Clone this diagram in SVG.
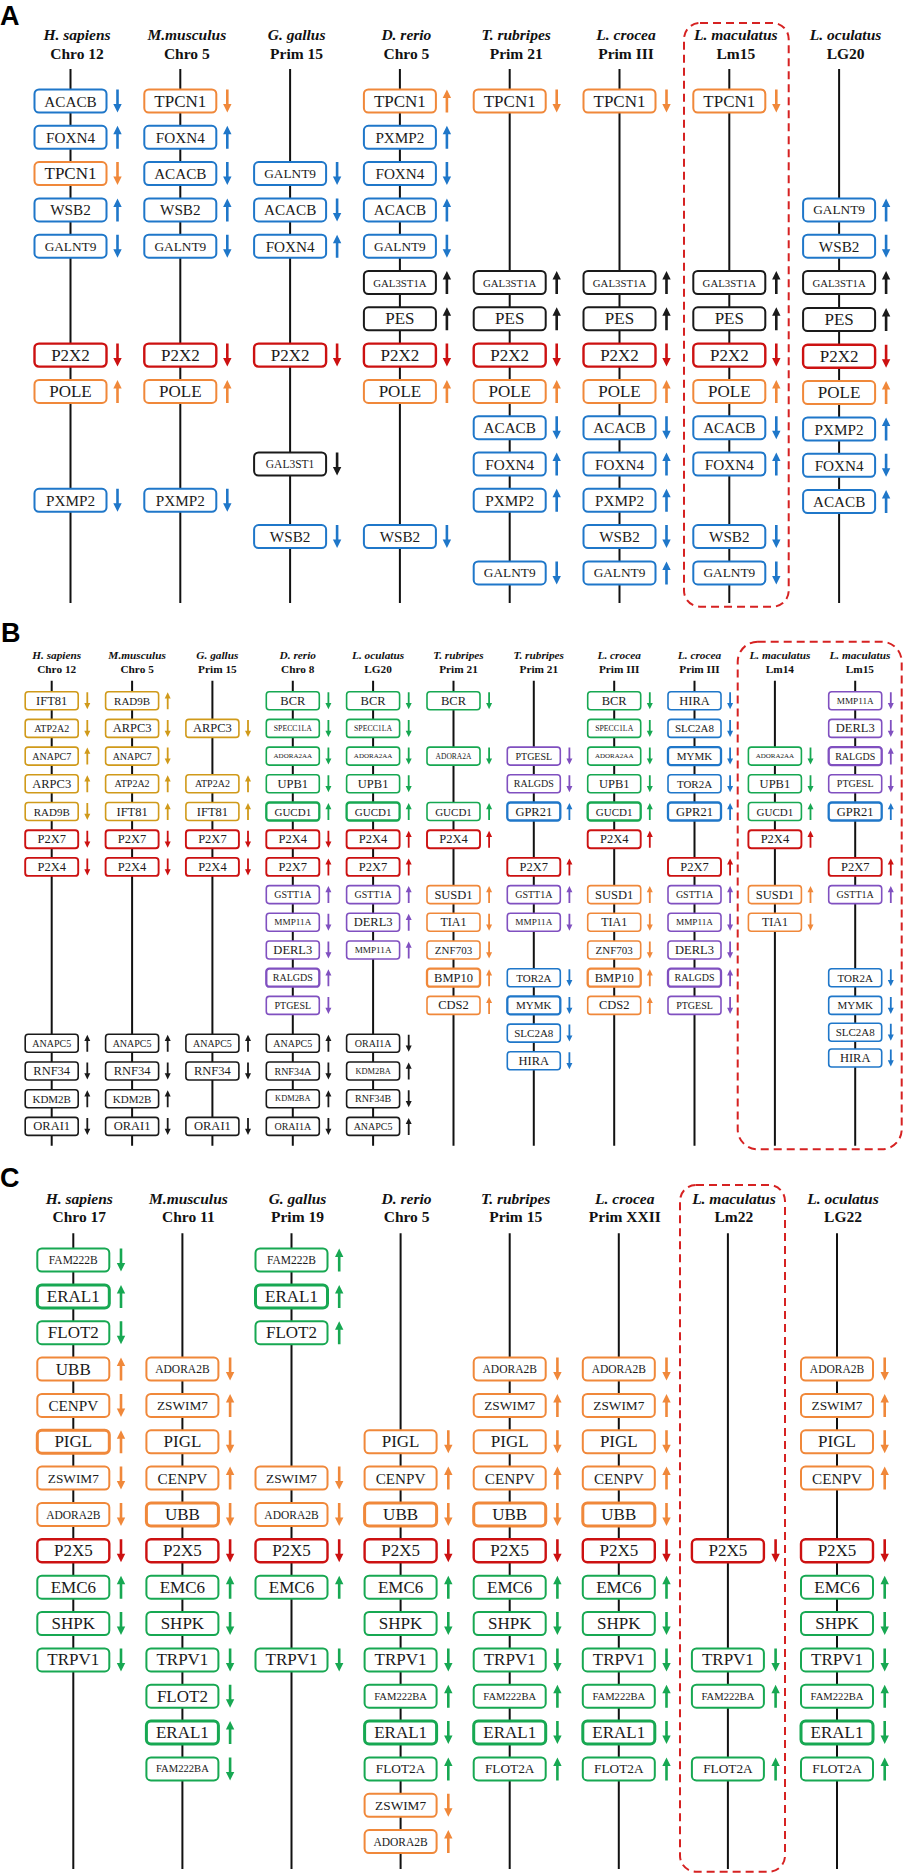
<svg xmlns="http://www.w3.org/2000/svg" width="905" height="1875" viewBox="0 0 905 1875">
<style>
.bg{fill:#fff}
.lt{font-family:"Liberation Sans",Arial,sans-serif;font-weight:bold;font-size:27px;fill:#000}
.t1{font-family:"Liberation Serif","Times New Roman",serif;font-weight:bold;font-style:italic;font-size:15.5px;text-anchor:middle;fill:#111}
.t2{font-family:"Liberation Serif","Times New Roman",serif;font-weight:bold;font-size:15.5px;text-anchor:middle;fill:#111}
.u1{font-family:"Liberation Serif","Times New Roman",serif;font-weight:bold;font-style:italic;font-size:11.3px;text-anchor:middle;fill:#111}
.u2{font-family:"Liberation Serif","Times New Roman",serif;font-weight:bold;font-size:11.3px;text-anchor:middle;fill:#111}
.chr{stroke:#111;stroke-width:2;fill:none}
.dash{fill:none;stroke:#d62222;stroke-width:2;stroke-dasharray:8 5}
.n{stroke-width:2}
.nb{stroke-width:1.6}
.n.tk{stroke-width:3}
.nb.tk{stroke-width:2.3}
.n.rd{stroke-width:2.4}
.nb.rd{stroke-width:1.9}
.n text,.nb text{fill:#1a1a1a;stroke:none;font-family:"Liberation Serif","Times New Roman",serif;text-anchor:middle;dominant-baseline:central}
.bl{stroke:#1f77c9;fill:#1f77c9}
.or{stroke:#f0883a;fill:#f0883a}
.rd{stroke:#cc1111;fill:#cc1111}
.bk{stroke:#1a1a1a;fill:#1a1a1a}
.gr{stroke:#17a852;fill:#17a852}
.pu{stroke:#8050c0;fill:#8050c0}
.gd{stroke:#d09a1a;fill:#d09a1a}
.f17{font-size:17px}.f15{font-size:15.2px}.f13{font-size:13.3px}.f115{font-size:11.5px}.f108{font-size:10.8px}.f106{font-size:10.6px}
.p125{font-size:12.5px}.p12{font-size:12px}.p11{font-size:11px}.p10{font-size:10px}.p9{font-size:9.2px}.p84{font-size:8.4px}.p78{font-size:7.8px}.p75{font-size:7.5px}.p7{font-size:7px}
</style>
<defs>
<rect id="bxA" x="-36" y="-11.5" width="72" height="23" rx="4.5" fill="#fff"/>
<rect id="bxB" x="-26.5" y="-9" width="53" height="18" rx="3" fill="#fff"/>
<path id="upA" stroke="none" d="M0,-11.5 L4.2,-3 L1.3,-3 L1.3,11.5 L-1.3,11.5 L-1.3,-3 L-4.2,-3 Z"/>
<path id="dnA" stroke="none" d="M0,11.5 L4.2,3 L1.3,3 L1.3,-11.5 L-1.3,-11.5 L-1.3,3 L-4.2,3 Z"/>
<path id="upB" stroke="none" d="M0,-8.5 L3,-2.3 L0.9,-2.3 L0.9,8.5 L-0.9,8.5 L-0.9,-2.3 L-3,-2.3 Z"/>
<path id="dnB" stroke="none" d="M0,8.5 L3,2.3 L0.9,2.3 L0.9,-8.5 L-0.9,-8.5 L-0.9,2.3 L-3,2.3 Z"/>
</defs>
<rect class="bg" x="0" y="0" width="905" height="1875"/>

<g id="labels">
<text class="lt" x="0" y="25">A</text>
<text class="lt" x="1" y="641.5">B</text>
<text class="lt" x="0" y="1187">C</text>
</g>

<g id="titles-A">
<text class="t1" x="77" y="39.5">H. sapiens</text><text class="t2" x="77" y="58.5">Chro 12</text>
<text class="t1" x="186.8" y="39.5">M.musculus</text><text class="t2" x="186.8" y="58.5">Chro 5</text>
<text class="t1" x="296.6" y="39.5">G. gallus</text><text class="t2" x="296.6" y="58.5">Prim 15</text>
<text class="t1" x="406.4" y="39.5">D. rerio</text><text class="t2" x="406.4" y="58.5">Chro 5</text>
<text class="t1" x="516.2" y="39.5">T. rubripes</text><text class="t2" x="516.2" y="58.5">Prim 21</text>
<text class="t1" x="626" y="39.5">L. crocea</text><text class="t2" x="626" y="58.5">Prim III</text>
<text class="t1" x="735.8" y="39.5">L. maculatus</text><text class="t2" x="735.8" y="58.5">Lm15</text>
<text class="t1" x="845.6" y="39.5">L. oculatus</text><text class="t2" x="845.6" y="58.5">LG20</text>
</g>
<g id="titles-B">
<text class="u1" x="56.7" y="659">H. sapiens</text><text class="u2" x="56.7" y="672.7">Chro 12</text>
<text class="u1" x="137.1" y="659">M.musculus</text><text class="u2" x="137.1" y="672.7">Chro 5</text>
<text class="u1" x="217.4" y="659">G. gallus</text><text class="u2" x="217.4" y="672.7">Prim 15</text>
<text class="u1" x="297.8" y="659">D. rerio</text><text class="u2" x="297.8" y="672.7">Chro 8</text>
<text class="u1" x="378.1" y="659">L. oculatus</text><text class="u2" x="378.1" y="672.7">LG20</text>
<text class="u1" x="458.5" y="659">T. rubripes</text><text class="u2" x="458.5" y="672.7">Prim 21</text>
<text class="u1" x="538.8" y="659">T. rubripes</text><text class="u2" x="538.8" y="672.7">Prim 21</text>
<text class="u1" x="619.2" y="659">L. crocea</text><text class="u2" x="619.2" y="672.7">Prim III</text>
<text class="u1" x="699.5" y="659">L. crocea</text><text class="u2" x="699.5" y="672.7">Prim III</text>
<text class="u1" x="779.9" y="659">L. maculatus</text><text class="u2" x="779.9" y="672.7">Lm14</text>
<text class="u1" x="859.9" y="659">L. maculatus</text><text class="u2" x="859.9" y="672.7">Lm15</text>
</g>
<g id="titles-C">
<text class="t1" x="79.3" y="1203.5">H. sapiens</text><text class="t2" x="79.3" y="1222">Chro 17</text>
<text class="t1" x="188.4" y="1203.5">M.musculus</text><text class="t2" x="188.4" y="1222">Chro 11</text>
<text class="t1" x="297.5" y="1203.5">G. gallus</text><text class="t2" x="297.5" y="1222">Prim 19</text>
<text class="t1" x="406.6" y="1203.5">D. rerio</text><text class="t2" x="406.6" y="1222">Chro 5</text>
<text class="t1" x="515.7" y="1203.5">T. rubripes</text><text class="t2" x="515.7" y="1222">Prim 15</text>
<text class="t1" x="624.8" y="1203.5">L. crocea</text><text class="t2" x="624.8" y="1222">Prim XXII</text>
<text class="t1" x="733.9" y="1203.5">L. maculatus</text><text class="t2" x="733.9" y="1222">Lm22</text>
<text class="t1" x="843" y="1203.5">L. oculatus</text><text class="t2" x="843" y="1222">LG22</text>
</g>

<g id="highlights">
<rect class="dash" x="684" y="23" width="104.7" height="583.7" rx="16"/>
<rect class="dash" x="737.7" y="641.7" width="164" height="507.6" rx="20"/>
<rect class="dash" x="680" y="1185" width="105" height="686.7" rx="16"/>
</g>

<g id="connectors">
<line class="chr" x1="70.5" y1="69" x2="70.5" y2="603"/>
<line class="chr" x1="180.3" y1="69" x2="180.3" y2="603"/>
<line class="chr" x1="290.1" y1="69" x2="290.1" y2="603"/>
<line class="chr" x1="399.9" y1="69" x2="399.9" y2="603"/>
<line class="chr" x1="509.7" y1="69" x2="509.7" y2="603"/>
<line class="chr" x1="619.5" y1="69" x2="619.5" y2="603"/>
<line class="chr" x1="729.3" y1="69" x2="729.3" y2="603"/>
<line class="chr" x1="839.1" y1="69" x2="839.1" y2="603"/>
<line class="chr" x1="51.7" y1="680.7" x2="51.7" y2="1145.7"/>
<line class="chr" x1="132.1" y1="680.7" x2="132.1" y2="1145.7"/>
<line class="chr" x1="212.4" y1="680.7" x2="212.4" y2="1145.7"/>
<line class="chr" x1="292.8" y1="680.7" x2="292.8" y2="1145.7"/>
<line class="chr" x1="373.1" y1="680.7" x2="373.1" y2="1145.7"/>
<line class="chr" x1="453.5" y1="680.7" x2="453.5" y2="1145.7"/>
<line class="chr" x1="533.8" y1="680.7" x2="533.8" y2="1145.7"/>
<line class="chr" x1="614.2" y1="680.7" x2="614.2" y2="1145.7"/>
<line class="chr" x1="694.5" y1="680.7" x2="694.5" y2="1145.7"/>
<line class="chr" x1="774.9" y1="680.7" x2="774.9" y2="1145.7"/>
<line class="chr" x1="855.2" y1="680.7" x2="855.2" y2="1145.7"/>
<line class="chr" x1="73.3" y1="1233.3" x2="73.3" y2="1869"/>
<line class="chr" x1="182.4" y1="1233.3" x2="182.4" y2="1869"/>
<line class="chr" x1="291.5" y1="1233.3" x2="291.5" y2="1869"/>
<line class="chr" x1="400.6" y1="1233.3" x2="400.6" y2="1869"/>
<line class="chr" x1="509.7" y1="1233.3" x2="509.7" y2="1869"/>
<line class="chr" x1="618.8" y1="1233.3" x2="618.8" y2="1869"/>
<line class="chr" x1="727.9" y1="1233.3" x2="727.9" y2="1869"/>
<line class="chr" x1="837" y1="1233.3" x2="837" y2="1869"/>
</g>

<!-- Panel A -->
<g id="A-Hs">
<g id="A-Hs-ACACB" class="n bl" transform="translate(70.5,101)"><use href="#bxA"/><text class="f15">ACACB</text><use href="#dnA" x="47"/></g>
<g id="A-Hs-FOXN4" class="n bl" transform="translate(70.5,137.3)"><use href="#bxA"/><text class="f15">FOXN4</text><use href="#upA" x="47"/></g>
<g id="A-Hs-TPCN1" class="n or" transform="translate(70.5,173.6)"><use href="#bxA"/><text class="f17">TPCN1</text><use href="#dnA" x="47"/></g>
<g id="A-Hs-WSB2" class="n bl" transform="translate(70.5,209.9)"><use href="#bxA"/><text class="f15">WSB2</text><use href="#upA" x="47"/></g>
<g id="A-Hs-GALNT9" class="n bl" transform="translate(70.5,246.2)"><use href="#bxA"/><text class="f13">GALNT9</text><use href="#dnA" x="47"/></g>
<g id="A-Hs-P2X2" class="n rd" transform="translate(70.5,355.1)"><use href="#bxA"/><text class="f17">P2X2</text><use href="#dnA" x="47"/></g>
<g id="A-Hs-POLE" class="n or" transform="translate(70.5,391.4)"><use href="#bxA"/><text class="f17">POLE</text><use href="#upA" x="47"/></g>
<g id="A-Hs-PXMP2" class="n bl" transform="translate(70.5,500.3)"><use href="#bxA"/><text class="f15">PXMP2</text><use href="#dnA" x="47"/></g>
</g>
<g id="A-Mm">
<g id="A-Mm-TPCN1" class="n or" transform="translate(180.3,101)"><use href="#bxA"/><text class="f17">TPCN1</text><use href="#dnA" x="47"/></g>
<g id="A-Mm-FOXN4" class="n bl" transform="translate(180.3,137.3)"><use href="#bxA"/><text class="f15">FOXN4</text><use href="#upA" x="47"/></g>
<g id="A-Mm-ACACB" class="n bl" transform="translate(180.3,173.6)"><use href="#bxA"/><text class="f15">ACACB</text><use href="#dnA" x="47"/></g>
<g id="A-Mm-WSB2" class="n bl" transform="translate(180.3,209.9)"><use href="#bxA"/><text class="f15">WSB2</text><use href="#upA" x="47"/></g>
<g id="A-Mm-GALNT9" class="n bl" transform="translate(180.3,246.2)"><use href="#bxA"/><text class="f13">GALNT9</text><use href="#dnA" x="47"/></g>
<g id="A-Mm-P2X2" class="n rd" transform="translate(180.3,355.1)"><use href="#bxA"/><text class="f17">P2X2</text><use href="#dnA" x="47"/></g>
<g id="A-Mm-POLE" class="n or" transform="translate(180.3,391.4)"><use href="#bxA"/><text class="f17">POLE</text><use href="#upA" x="47"/></g>
<g id="A-Mm-PXMP2" class="n bl" transform="translate(180.3,500.3)"><use href="#bxA"/><text class="f15">PXMP2</text><use href="#dnA" x="47"/></g>
</g>
<g id="A-Gg">
<g id="A-Gg-GALNT9" class="n bl" transform="translate(290.1,173.6)"><use href="#bxA"/><text class="f13">GALNT9</text><use href="#dnA" x="47"/></g>
<g id="A-Gg-ACACB" class="n bl" transform="translate(290.1,209.9)"><use href="#bxA"/><text class="f15">ACACB</text><use href="#dnA" x="47"/></g>
<g id="A-Gg-FOXN4" class="n bl" transform="translate(290.1,246.2)"><use href="#bxA"/><text class="f15">FOXN4</text><use href="#upA" x="47"/></g>
<g id="A-Gg-P2X2" class="n rd" transform="translate(290.1,355.1)"><use href="#bxA"/><text class="f17">P2X2</text><use href="#dnA" x="47"/></g>
<g id="A-Gg-GAL3ST1" class="n bk" transform="translate(290.1,464)"><use href="#bxA"/><text class="f115">GAL3ST1</text><use href="#dnA" x="47"/></g>
<g id="A-Gg-WSB2" class="n bl" transform="translate(290.1,536.6)"><use href="#bxA"/><text class="f15">WSB2</text><use href="#dnA" x="47"/></g>
</g>
<g id="A-Dr">
<g id="A-Dr-TPCN1" class="n or" transform="translate(399.9,101)"><use href="#bxA"/><text class="f17">TPCN1</text><use href="#upA" x="47"/></g>
<g id="A-Dr-PXMP2" class="n bl" transform="translate(399.9,137.3)"><use href="#bxA"/><text class="f15">PXMP2</text><use href="#upA" x="47"/></g>
<g id="A-Dr-FOXN4" class="n bl" transform="translate(399.9,173.6)"><use href="#bxA"/><text class="f15">FOXN4</text><use href="#dnA" x="47"/></g>
<g id="A-Dr-ACACB" class="n bl" transform="translate(399.9,209.9)"><use href="#bxA"/><text class="f15">ACACB</text><use href="#upA" x="47"/></g>
<g id="A-Dr-GALNT9" class="n bl" transform="translate(399.9,246.2)"><use href="#bxA"/><text class="f13">GALNT9</text><use href="#dnA" x="47"/></g>
<g id="A-Dr-GAL3ST1A" class="n bk" transform="translate(399.9,282.5)"><use href="#bxA"/><text class="f108">GAL3ST1A</text><use href="#upA" x="47"/></g>
<g id="A-Dr-PES" class="n bk" transform="translate(399.9,318.8)"><use href="#bxA"/><text class="f17">PES</text><use href="#upA" x="47"/></g>
<g id="A-Dr-P2X2" class="n rd" transform="translate(399.9,355.1)"><use href="#bxA"/><text class="f17">P2X2</text><use href="#dnA" x="47"/></g>
<g id="A-Dr-POLE" class="n or" transform="translate(399.9,391.4)"><use href="#bxA"/><text class="f17">POLE</text><use href="#upA" x="47"/></g>
<g id="A-Dr-WSB2" class="n bl" transform="translate(399.9,536.6)"><use href="#bxA"/><text class="f15">WSB2</text><use href="#dnA" x="47"/></g>
</g>
<g id="A-Tr">
<g id="A-Tr-TPCN1" class="n or" transform="translate(509.7,101)"><use href="#bxA"/><text class="f17">TPCN1</text><use href="#dnA" x="47"/></g>
<g id="A-Tr-GAL3ST1A" class="n bk" transform="translate(509.7,282.5)"><use href="#bxA"/><text class="f108">GAL3ST1A</text><use href="#upA" x="47"/></g>
<g id="A-Tr-PES" class="n bk" transform="translate(509.7,318.8)"><use href="#bxA"/><text class="f17">PES</text><use href="#upA" x="47"/></g>
<g id="A-Tr-P2X2" class="n rd" transform="translate(509.7,355.1)"><use href="#bxA"/><text class="f17">P2X2</text><use href="#dnA" x="47"/></g>
<g id="A-Tr-POLE" class="n or" transform="translate(509.7,391.4)"><use href="#bxA"/><text class="f17">POLE</text><use href="#upA" x="47"/></g>
<g id="A-Tr-ACACB" class="n bl" transform="translate(509.7,427.7)"><use href="#bxA"/><text class="f15">ACACB</text><use href="#dnA" x="47"/></g>
<g id="A-Tr-FOXN4" class="n bl" transform="translate(509.7,464)"><use href="#bxA"/><text class="f15">FOXN4</text><use href="#upA" x="47"/></g>
<g id="A-Tr-PXMP2" class="n bl" transform="translate(509.7,500.3)"><use href="#bxA"/><text class="f15">PXMP2</text><use href="#upA" x="47"/></g>
<g id="A-Tr-GALNT9" class="n bl" transform="translate(509.7,572.9)"><use href="#bxA"/><text class="f13">GALNT9</text><use href="#dnA" x="47"/></g>
</g>
<g id="A-Lc">
<g id="A-Lc-TPCN1" class="n or" transform="translate(619.5,101)"><use href="#bxA"/><text class="f17">TPCN1</text><use href="#dnA" x="47"/></g>
<g id="A-Lc-GAL3ST1A" class="n bk" transform="translate(619.5,282.5)"><use href="#bxA"/><text class="f108">GAL3ST1A</text><use href="#upA" x="47"/></g>
<g id="A-Lc-PES" class="n bk" transform="translate(619.5,318.8)"><use href="#bxA"/><text class="f17">PES</text><use href="#upA" x="47"/></g>
<g id="A-Lc-P2X2" class="n rd" transform="translate(619.5,355.1)"><use href="#bxA"/><text class="f17">P2X2</text><use href="#dnA" x="47"/></g>
<g id="A-Lc-POLE" class="n or" transform="translate(619.5,391.4)"><use href="#bxA"/><text class="f17">POLE</text><use href="#upA" x="47"/></g>
<g id="A-Lc-ACACB" class="n bl" transform="translate(619.5,427.7)"><use href="#bxA"/><text class="f15">ACACB</text><use href="#dnA" x="47"/></g>
<g id="A-Lc-FOXN4" class="n bl" transform="translate(619.5,464)"><use href="#bxA"/><text class="f15">FOXN4</text><use href="#upA" x="47"/></g>
<g id="A-Lc-PXMP2" class="n bl" transform="translate(619.5,500.3)"><use href="#bxA"/><text class="f15">PXMP2</text><use href="#upA" x="47"/></g>
<g id="A-Lc-WSB2" class="n bl" transform="translate(619.5,536.6)"><use href="#bxA"/><text class="f15">WSB2</text><use href="#dnA" x="47"/></g>
<g id="A-Lc-GALNT9" class="n bl" transform="translate(619.5,572.9)"><use href="#bxA"/><text class="f13">GALNT9</text><use href="#upA" x="47"/></g>
</g>
<g id="A-Lm">
<g id="A-Lm-TPCN1" class="n or" transform="translate(729.3,101)"><use href="#bxA"/><text class="f17">TPCN1</text><use href="#dnA" x="47"/></g>
<g id="A-Lm-GAL3ST1A" class="n bk" transform="translate(729.3,282.5)"><use href="#bxA"/><text class="f108">GAL3ST1A</text><use href="#upA" x="47"/></g>
<g id="A-Lm-PES" class="n bk" transform="translate(729.3,318.8)"><use href="#bxA"/><text class="f17">PES</text><use href="#upA" x="47"/></g>
<g id="A-Lm-P2X2" class="n rd" transform="translate(729.3,355.1)"><use href="#bxA"/><text class="f17">P2X2</text><use href="#dnA" x="47"/></g>
<g id="A-Lm-POLE" class="n or" transform="translate(729.3,391.4)"><use href="#bxA"/><text class="f17">POLE</text><use href="#upA" x="47"/></g>
<g id="A-Lm-ACACB" class="n bl" transform="translate(729.3,427.7)"><use href="#bxA"/><text class="f15">ACACB</text><use href="#dnA" x="47"/></g>
<g id="A-Lm-FOXN4" class="n bl" transform="translate(729.3,464)"><use href="#bxA"/><text class="f15">FOXN4</text><use href="#upA" x="47"/></g>
<g id="A-Lm-WSB2" class="n bl" transform="translate(729.3,536.6)"><use href="#bxA"/><text class="f15">WSB2</text><use href="#dnA" x="47"/></g>
<g id="A-Lm-GALNT9" class="n bl" transform="translate(729.3,572.9)"><use href="#bxA"/><text class="f13">GALNT9</text><use href="#dnA" x="47"/></g>
</g>
<g id="A-Lo">
<g id="A-Lo-GALNT9" class="n bl" transform="translate(839.1,209.9)"><use href="#bxA"/><text class="f13">GALNT9</text><use href="#upA" x="47"/></g>
<g id="A-Lo-WSB2" class="n bl" transform="translate(839.1,246.2)"><use href="#bxA"/><text class="f15">WSB2</text><use href="#dnA" x="47"/></g>
<g id="A-Lo-GAL3ST1A" class="n bk" transform="translate(839.1,282.5)"><use href="#bxA"/><text class="f108">GAL3ST1A</text><use href="#upA" x="47"/></g>
<g id="A-Lo-PES" class="n bk" transform="translate(839.1,319.5)"><use href="#bxA"/><text class="f17">PES</text><use href="#upA" x="47"/></g>
<g id="A-Lo-P2X2" class="n rd" transform="translate(839.1,356.3)"><use href="#bxA"/><text class="f17">P2X2</text><use href="#dnA" x="47"/></g>
<g id="A-Lo-POLE" class="n or" transform="translate(839.1,392.6)"><use href="#bxA"/><text class="f17">POLE</text><use href="#upA" x="47"/></g>
<g id="A-Lo-PXMP2" class="n bl" transform="translate(839.1,429)"><use href="#bxA"/><text class="f15">PXMP2</text><use href="#upA" x="47"/></g>
<g id="A-Lo-FOXN4" class="n bl" transform="translate(839.1,465.3)"><use href="#bxA"/><text class="f15">FOXN4</text><use href="#dnA" x="47"/></g>
<g id="A-Lo-ACACB" class="n bl" transform="translate(839.1,501.6)"><use href="#bxA"/><text class="f15">ACACB</text><use href="#upA" x="47"/></g>
</g>

<!-- Panel B -->
<g id="B-Hs">
<g id="B-Hs-IFT81" class="nb gd" transform="translate(51.7,700.7)"><use href="#bxB"/><text class="p125">IFT81</text><use href="#dnB" x="35.6"/></g>
<g id="B-Hs-ATP2A2" class="nb gd" transform="translate(51.7,728.4)"><use href="#bxB"/><text class="p10">ATP2A2</text><use href="#dnB" x="35.6"/></g>
<g id="B-Hs-ANAPC7" class="nb gd" transform="translate(51.7,756.1)"><use href="#bxB"/><text class="p10">ANAPC7</text><use href="#upB" x="35.6"/></g>
<g id="B-Hs-ARPC3" class="nb gd" transform="translate(51.7,783.8)"><use href="#bxB"/><text class="p125">ARPC3</text><use href="#upB" x="35.6"/></g>
<g id="B-Hs-RAD9B" class="nb gd" transform="translate(51.7,811.5)"><use href="#bxB"/><text class="p11">RAD9B</text><use href="#dnB" x="35.6"/></g>
<g id="B-Hs-P2X7" class="nb rd" transform="translate(51.7,839.2)"><use href="#bxB"/><text class="p125">P2X7</text><use href="#dnB" x="35.6"/></g>
<g id="B-Hs-P2X4" class="nb rd" transform="translate(51.7,866.9)"><use href="#bxB"/><text class="p125">P2X4</text><use href="#dnB" x="35.6"/></g>
<g id="B-Hs-ANAPC5" class="nb bk" transform="translate(51.7,1043.3)"><use href="#bxB"/><text class="p10">ANAPC5</text><use href="#upB" x="35.6"/></g>
<g id="B-Hs-RNF34" class="nb bk" transform="translate(51.7,1071)"><use href="#bxB"/><text class="p125">RNF34</text><use href="#dnB" x="35.6"/></g>
<g id="B-Hs-KDM2B" class="nb bk" transform="translate(51.7,1098.7)"><use href="#bxB"/><text class="p11">KDM2B</text><use href="#upB" x="35.6"/></g>
<g id="B-Hs-ORAI1" class="nb bk" transform="translate(51.7,1126.4)"><use href="#bxB"/><text class="p125">ORAI1</text><use href="#dnB" x="35.6"/></g>
</g>
<g id="B-Mm">
<g id="B-Mm-RAD9B" class="nb gd" transform="translate(132.1,700.7)"><use href="#bxB"/><text class="p11">RAD9B</text><use href="#upB" x="35.6"/></g>
<g id="B-Mm-ARPC3" class="nb gd" transform="translate(132.1,728.4)"><use href="#bxB"/><text class="p125">ARPC3</text><use href="#dnB" x="35.6"/></g>
<g id="B-Mm-ANAPC7" class="nb gd" transform="translate(132.1,756.1)"><use href="#bxB"/><text class="p10">ANAPC7</text><use href="#dnB" x="35.6"/></g>
<g id="B-Mm-ATP2A2" class="nb gd" transform="translate(132.1,783.8)"><use href="#bxB"/><text class="p10">ATP2A2</text><use href="#upB" x="35.6"/></g>
<g id="B-Mm-IFT81" class="nb gd" transform="translate(132.1,811.5)"><use href="#bxB"/><text class="p125">IFT81</text><use href="#upB" x="35.6"/></g>
<g id="B-Mm-P2X7" class="nb rd" transform="translate(132.1,839.2)"><use href="#bxB"/><text class="p125">P2X7</text><use href="#dnB" x="35.6"/></g>
<g id="B-Mm-P2X4" class="nb rd" transform="translate(132.1,866.9)"><use href="#bxB"/><text class="p125">P2X4</text><use href="#dnB" x="35.6"/></g>
<g id="B-Mm-ANAPC5" class="nb bk" transform="translate(132.1,1043.3)"><use href="#bxB"/><text class="p10">ANAPC5</text><use href="#upB" x="35.6"/></g>
<g id="B-Mm-RNF34" class="nb bk" transform="translate(132.1,1071)"><use href="#bxB"/><text class="p125">RNF34</text><use href="#dnB" x="35.6"/></g>
<g id="B-Mm-KDM2B" class="nb bk" transform="translate(132.1,1098.7)"><use href="#bxB"/><text class="p11">KDM2B</text><use href="#upB" x="35.6"/></g>
<g id="B-Mm-ORAI1" class="nb bk" transform="translate(132.1,1126.4)"><use href="#bxB"/><text class="p125">ORAI1</text><use href="#dnB" x="35.6"/></g>
</g>
<g id="B-Gg">
<g id="B-Gg-ARPC3" class="nb gd" transform="translate(212.4,728.4)"><use href="#bxB"/><text class="p125">ARPC3</text><use href="#dnB" x="35.6"/></g>
<g id="B-Gg-ATP2A2" class="nb gd" transform="translate(212.4,783.8)"><use href="#bxB"/><text class="p10">ATP2A2</text><use href="#upB" x="35.6"/></g>
<g id="B-Gg-IFT81" class="nb gd" transform="translate(212.4,811.5)"><use href="#bxB"/><text class="p125">IFT81</text><use href="#upB" x="35.6"/></g>
<g id="B-Gg-P2X7" class="nb rd" transform="translate(212.4,839.2)"><use href="#bxB"/><text class="p125">P2X7</text><use href="#dnB" x="35.6"/></g>
<g id="B-Gg-P2X4" class="nb rd" transform="translate(212.4,866.9)"><use href="#bxB"/><text class="p125">P2X4</text><use href="#dnB" x="35.6"/></g>
<g id="B-Gg-ANAPC5" class="nb bk" transform="translate(212.4,1043.3)"><use href="#bxB"/><text class="p10">ANAPC5</text><use href="#upB" x="35.6"/></g>
<g id="B-Gg-RNF34" class="nb bk" transform="translate(212.4,1071)"><use href="#bxB"/><text class="p125">RNF34</text><use href="#dnB" x="35.6"/></g>
<g id="B-Gg-ORAI1" class="nb bk" transform="translate(212.4,1126.4)"><use href="#bxB"/><text class="p125">ORAI1</text><use href="#dnB" x="35.6"/></g>
</g>
<g id="B-Dr">
<g id="B-Dr-BCR" class="nb gr" transform="translate(292.8,700.7)"><use href="#bxB"/><text class="p125">BCR</text><use href="#dnB" x="35.6"/></g>
<g id="B-Dr-SPECC1LA" class="nb gr" transform="translate(292.8,728.4)"><use href="#bxB"/><text class="p78">SPECC1LA</text><use href="#dnB" x="35.6"/></g>
<g id="B-Dr-ADORA2AA" class="nb gr" transform="translate(292.8,756.1)"><use href="#bxB"/><text class="p7">ADORA2AA</text><use href="#dnB" x="35.6"/></g>
<g id="B-Dr-UPB1" class="nb gr" transform="translate(292.8,783.8)"><use href="#bxB"/><text class="p125">UPB1</text><use href="#dnB" x="35.6"/></g>
<g id="B-Dr-GUCD1" class="nb gr tk" transform="translate(292.8,811.5)"><use href="#bxB"/><text class="p11">GUCD1</text><use href="#upB" x="35.6"/></g>
<g id="B-Dr-P2X4" class="nb rd" transform="translate(292.8,839.2)"><use href="#bxB"/><text class="p125">P2X4</text><use href="#dnB" x="35.6"/></g>
<g id="B-Dr-P2X7" class="nb rd" transform="translate(292.8,866.9)"><use href="#bxB"/><text class="p125">P2X7</text><use href="#upB" x="35.6"/></g>
<g id="B-Dr-GSTT1A" class="nb pu" transform="translate(292.8,894.6)"><use href="#bxB"/><text class="p10">GSTT1A</text><use href="#upB" x="35.6"/></g>
<g id="B-Dr-MMP11A" class="nb pu" transform="translate(292.8,922.3)"><use href="#bxB"/><text class="p9">MMP11A</text><use href="#dnB" x="35.6"/></g>
<g id="B-Dr-DERL3" class="nb pu" transform="translate(292.8,950)"><use href="#bxB"/><text class="p125">DERL3</text><use href="#dnB" x="35.6"/></g>
<g id="B-Dr-RALGDS" class="nb pu tk" transform="translate(292.8,977.7)"><use href="#bxB"/><text class="p10">RALGDS</text><use href="#upB" x="35.6"/></g>
<g id="B-Dr-PTGESL" class="nb pu" transform="translate(292.8,1005.4)"><use href="#bxB"/><text class="p10">PTGESL</text><use href="#dnB" x="35.6"/></g>
<g id="B-Dr-ANAPC5" class="nb bk" transform="translate(292.8,1043.3)"><use href="#bxB"/><text class="p10">ANAPC5</text><use href="#upB" x="35.6"/></g>
<g id="B-Dr-RNF34A" class="nb bk" transform="translate(292.8,1071)"><use href="#bxB"/><text class="p10">RNF34A</text><use href="#dnB" x="35.6"/></g>
<g id="B-Dr-KDM2BA" class="nb bk" transform="translate(292.8,1098.7)"><use href="#bxB"/><text class="p84">KDM2BA</text><use href="#upB" x="35.6"/></g>
<g id="B-Dr-ORAI1A" class="nb bk" transform="translate(292.8,1126.4)"><use href="#bxB"/><text class="p10">ORAI1A</text><use href="#dnB" x="35.6"/></g>
</g>
<g id="B-Lo">
<g id="B-Lo-BCR" class="nb gr" transform="translate(373.1,700.7)"><use href="#bxB"/><text class="p125">BCR</text><use href="#dnB" x="35.6"/></g>
<g id="B-Lo-SPECC1LA" class="nb gr" transform="translate(373.1,728.4)"><use href="#bxB"/><text class="p78">SPECC1LA</text><use href="#dnB" x="35.6"/></g>
<g id="B-Lo-ADORA2AA" class="nb gr" transform="translate(373.1,756.1)"><use href="#bxB"/><text class="p7">ADORA2AA</text><use href="#dnB" x="35.6"/></g>
<g id="B-Lo-UPB1" class="nb gr" transform="translate(373.1,783.8)"><use href="#bxB"/><text class="p125">UPB1</text><use href="#dnB" x="35.6"/></g>
<g id="B-Lo-GUCD1" class="nb gr tk" transform="translate(373.1,811.5)"><use href="#bxB"/><text class="p11">GUCD1</text><use href="#upB" x="35.6"/></g>
<g id="B-Lo-P2X4" class="nb rd" transform="translate(373.1,839.2)"><use href="#bxB"/><text class="p125">P2X4</text><use href="#upB" x="35.6"/></g>
<g id="B-Lo-P2X7" class="nb rd" transform="translate(373.1,866.9)"><use href="#bxB"/><text class="p125">P2X7</text><use href="#upB" x="35.6"/></g>
<g id="B-Lo-GSTT1A" class="nb pu" transform="translate(373.1,894.6)"><use href="#bxB"/><text class="p10">GSTT1A</text><use href="#upB" x="35.6"/></g>
<g id="B-Lo-DERL3" class="nb pu" transform="translate(373.1,922.3)"><use href="#bxB"/><text class="p125">DERL3</text><use href="#upB" x="35.6"/></g>
<g id="B-Lo-MMP11A" class="nb pu" transform="translate(373.1,950)"><use href="#bxB"/><text class="p9">MMP11A</text><use href="#upB" x="35.6"/></g>
<g id="B-Lo-ORAI1A" class="nb bk" transform="translate(373.1,1043.3)"><use href="#bxB"/><text class="p10">ORAI1A</text><use href="#dnB" x="35.6"/></g>
<g id="B-Lo-KDM2BA" class="nb bk" transform="translate(373.1,1071)"><use href="#bxB"/><text class="p84">KDM2BA</text><use href="#upB" x="35.6"/></g>
<g id="B-Lo-RNF34B" class="nb bk" transform="translate(373.1,1098.7)"><use href="#bxB"/><text class="p10">RNF34B</text><use href="#dnB" x="35.6"/></g>
<g id="B-Lo-ANAPC5" class="nb bk" transform="translate(373.1,1126.4)"><use href="#bxB"/><text class="p10">ANAPC5</text><use href="#upB" x="35.6"/></g>
</g>
<g id="B-Tr1">
<g id="B-Tr1-BCR" class="nb gr" transform="translate(453.5,700.7)"><use href="#bxB"/><text class="p125">BCR</text><use href="#dnB" x="35.6"/></g>
<g id="B-Tr1-ADORA2A" class="nb gr" transform="translate(453.5,756.1)"><use href="#bxB"/><text class="p75">ADORA2A</text><use href="#dnB" x="35.6"/></g>
<g id="B-Tr1-GUCD1" class="nb gr" transform="translate(453.5,811.5)"><use href="#bxB"/><text class="p11">GUCD1</text><use href="#upB" x="35.6"/></g>
<g id="B-Tr1-P2X4" class="nb rd" transform="translate(453.5,839.2)"><use href="#bxB"/><text class="p125">P2X4</text><use href="#upB" x="35.6"/></g>
<g id="B-Tr1-SUSD1" class="nb or" transform="translate(453.5,894.6)"><use href="#bxB"/><text class="p125">SUSD1</text><use href="#upB" x="35.6"/></g>
<g id="B-Tr1-TIA1" class="nb or" transform="translate(453.5,922.3)"><use href="#bxB"/><text class="p12">TIA1</text><use href="#dnB" x="35.6"/></g>
<g id="B-Tr1-ZNF703" class="nb or" transform="translate(453.5,950)"><use href="#bxB"/><text class="p11">ZNF703</text><use href="#dnB" x="35.6"/></g>
<g id="B-Tr1-BMP10" class="nb or tk" transform="translate(453.5,977.7)"><use href="#bxB"/><text class="p125">BMP10</text><use href="#upB" x="35.6"/></g>
<g id="B-Tr1-CDS2" class="nb or" transform="translate(453.5,1005.4)"><use href="#bxB"/><text class="p125">CDS2</text><use href="#upB" x="35.6"/></g>
</g>
<g id="B-Tr2">
<g id="B-Tr2-PTGESL" class="nb pu" transform="translate(533.8,756.1)"><use href="#bxB"/><text class="p10">PTGESL</text><use href="#dnB" x="35.6"/></g>
<g id="B-Tr2-RALGDS" class="nb pu" transform="translate(533.8,783.8)"><use href="#bxB"/><text class="p10">RALGDS</text><use href="#dnB" x="35.6"/></g>
<g id="B-Tr2-GPR21" class="nb bl tk" transform="translate(533.8,811.5)"><use href="#bxB"/><text class="p125">GPR21</text><use href="#upB" x="35.6"/></g>
<g id="B-Tr2-P2X7" class="nb rd" transform="translate(533.8,866.9)"><use href="#bxB"/><text class="p125">P2X7</text><use href="#upB" x="35.6"/></g>
<g id="B-Tr2-GSTT1A" class="nb pu" transform="translate(533.8,894.6)"><use href="#bxB"/><text class="p10">GSTT1A</text><use href="#upB" x="35.6"/></g>
<g id="B-Tr2-MMP11A" class="nb pu" transform="translate(533.8,922.3)"><use href="#bxB"/><text class="p9">MMP11A</text><use href="#dnB" x="35.6"/></g>
<g id="B-Tr2-TOR2A" class="nb bl" transform="translate(533.8,977.7)"><use href="#bxB"/><text class="p11">TOR2A</text><use href="#dnB" x="35.6"/></g>
<g id="B-Tr2-MYMK" class="nb bl tk" transform="translate(533.8,1005.4)"><use href="#bxB"/><text class="p11">MYMK</text><use href="#dnB" x="35.6"/></g>
<g id="B-Tr2-SLC2A8" class="nb bl" transform="translate(533.8,1033.1)"><use href="#bxB"/><text class="p11">SLC2A8</text><use href="#dnB" x="35.6"/></g>
<g id="B-Tr2-HIRA" class="nb bl" transform="translate(533.8,1060.8)"><use href="#bxB"/><text class="p125">HIRA</text><use href="#dnB" x="35.6"/></g>
</g>
<g id="B-Lc1">
<g id="B-Lc1-BCR" class="nb gr" transform="translate(614.2,700.7)"><use href="#bxB"/><text class="p125">BCR</text><use href="#dnB" x="35.6"/></g>
<g id="B-Lc1-SPECC1LA" class="nb gr" transform="translate(614.2,728.4)"><use href="#bxB"/><text class="p78">SPECC1LA</text><use href="#dnB" x="35.6"/></g>
<g id="B-Lc1-ADORA2AA" class="nb gr" transform="translate(614.2,756.1)"><use href="#bxB"/><text class="p7">ADORA2AA</text><use href="#dnB" x="35.6"/></g>
<g id="B-Lc1-UPB1" class="nb gr" transform="translate(614.2,783.8)"><use href="#bxB"/><text class="p125">UPB1</text><use href="#dnB" x="35.6"/></g>
<g id="B-Lc1-GUCD1" class="nb gr tk" transform="translate(614.2,811.5)"><use href="#bxB"/><text class="p11">GUCD1</text><use href="#upB" x="35.6"/></g>
<g id="B-Lc1-P2X4" class="nb rd" transform="translate(614.2,839.2)"><use href="#bxB"/><text class="p125">P2X4</text><use href="#upB" x="35.6"/></g>
<g id="B-Lc1-SUSD1" class="nb or" transform="translate(614.2,894.6)"><use href="#bxB"/><text class="p125">SUSD1</text><use href="#upB" x="35.6"/></g>
<g id="B-Lc1-TIA1" class="nb or" transform="translate(614.2,922.3)"><use href="#bxB"/><text class="p12">TIA1</text><use href="#dnB" x="35.6"/></g>
<g id="B-Lc1-ZNF703" class="nb or" transform="translate(614.2,950)"><use href="#bxB"/><text class="p11">ZNF703</text><use href="#dnB" x="35.6"/></g>
<g id="B-Lc1-BMP10" class="nb or tk" transform="translate(614.2,977.7)"><use href="#bxB"/><text class="p125">BMP10</text><use href="#upB" x="35.6"/></g>
<g id="B-Lc1-CDS2" class="nb or" transform="translate(614.2,1005.4)"><use href="#bxB"/><text class="p125">CDS2</text><use href="#upB" x="35.6"/></g>
</g>
<g id="B-Lc2">
<g id="B-Lc2-HIRA" class="nb bl" transform="translate(694.5,700.7)"><use href="#bxB"/><text class="p125">HIRA</text><use href="#dnB" x="35.6"/></g>
<g id="B-Lc2-SLC2A8" class="nb bl" transform="translate(694.5,728.4)"><use href="#bxB"/><text class="p11">SLC2A8</text><use href="#dnB" x="35.6"/></g>
<g id="B-Lc2-MYMK" class="nb bl tk" transform="translate(694.5,756.1)"><use href="#bxB"/><text class="p11">MYMK</text><use href="#dnB" x="35.6"/></g>
<g id="B-Lc2-TOR2A" class="nb bl" transform="translate(694.5,783.8)"><use href="#bxB"/><text class="p11">TOR2A</text><use href="#dnB" x="35.6"/></g>
<g id="B-Lc2-GPR21" class="nb bl tk" transform="translate(694.5,811.5)"><use href="#bxB"/><text class="p125">GPR21</text><use href="#upB" x="35.6"/></g>
<g id="B-Lc2-P2X7" class="nb rd" transform="translate(694.5,866.9)"><use href="#bxB"/><text class="p125">P2X7</text><use href="#upB" x="35.6"/></g>
<g id="B-Lc2-GSTT1A" class="nb pu" transform="translate(694.5,894.6)"><use href="#bxB"/><text class="p10">GSTT1A</text><use href="#upB" x="35.6"/></g>
<g id="B-Lc2-MMP11A" class="nb pu" transform="translate(694.5,922.3)"><use href="#bxB"/><text class="p9">MMP11A</text><use href="#dnB" x="35.6"/></g>
<g id="B-Lc2-DERL3" class="nb pu" transform="translate(694.5,950)"><use href="#bxB"/><text class="p125">DERL3</text><use href="#dnB" x="35.6"/></g>
<g id="B-Lc2-RALGDS" class="nb pu tk" transform="translate(694.5,977.7)"><use href="#bxB"/><text class="p10">RALGDS</text><use href="#upB" x="35.6"/></g>
<g id="B-Lc2-PTGESL" class="nb pu" transform="translate(694.5,1005.4)"><use href="#bxB"/><text class="p10">PTGESL</text><use href="#dnB" x="35.6"/></g>
</g>
<g id="B-Lm14">
<g id="B-Lm14-ADORA2AA" class="nb gr" transform="translate(774.9,756.1)"><use href="#bxB"/><text class="p7">ADORA2AA</text><use href="#dnB" x="35.6"/></g>
<g id="B-Lm14-UPB1" class="nb gr" transform="translate(774.9,783.8)"><use href="#bxB"/><text class="p125">UPB1</text><use href="#dnB" x="35.6"/></g>
<g id="B-Lm14-GUCD1" class="nb gr" transform="translate(774.9,811.5)"><use href="#bxB"/><text class="p11">GUCD1</text><use href="#upB" x="35.6"/></g>
<g id="B-Lm14-P2X4" class="nb rd" transform="translate(774.9,839.2)"><use href="#bxB"/><text class="p125">P2X4</text><use href="#upB" x="35.6"/></g>
<g id="B-Lm14-SUSD1" class="nb or" transform="translate(774.9,894.6)"><use href="#bxB"/><text class="p125">SUSD1</text><use href="#upB" x="35.6"/></g>
<g id="B-Lm14-TIA1" class="nb or" transform="translate(774.9,922.3)"><use href="#bxB"/><text class="p12">TIA1</text><use href="#dnB" x="35.6"/></g>
</g>
<g id="B-Lm15">
<g id="B-Lm15-MMP11A" class="nb pu" transform="translate(855.2,700.7)"><use href="#bxB"/><text class="p9">MMP11A</text><use href="#dnB" x="35.6"/></g>
<g id="B-Lm15-DERL3" class="nb pu" transform="translate(855.2,728.4)"><use href="#bxB"/><text class="p125">DERL3</text><use href="#dnB" x="35.6"/></g>
<g id="B-Lm15-RALGDS" class="nb pu tk" transform="translate(855.2,756.1)"><use href="#bxB"/><text class="p10">RALGDS</text><use href="#upB" x="35.6"/></g>
<g id="B-Lm15-PTGESL" class="nb pu" transform="translate(855.2,783.8)"><use href="#bxB"/><text class="p10">PTGESL</text><use href="#dnB" x="35.6"/></g>
<g id="B-Lm15-GPR21" class="nb bl tk" transform="translate(855.2,811.5)"><use href="#bxB"/><text class="p125">GPR21</text><use href="#upB" x="35.6"/></g>
<g id="B-Lm15-P2X7" class="nb rd" transform="translate(855.2,866.9)"><use href="#bxB"/><text class="p125">P2X7</text><use href="#upB" x="35.6"/></g>
<g id="B-Lm15-GSTT1A" class="nb pu" transform="translate(855.2,894.6)"><use href="#bxB"/><text class="p10">GSTT1A</text><use href="#upB" x="35.6"/></g>
<g id="B-Lm15-TOR2A" class="nb bl" transform="translate(855.2,977.7)"><use href="#bxB"/><text class="p11">TOR2A</text><use href="#dnB" x="35.6"/></g>
<g id="B-Lm15-MYMK" class="nb bl" transform="translate(855.2,1005.4)"><use href="#bxB"/><text class="p11">MYMK</text><use href="#dnB" x="35.6"/></g>
<g id="B-Lm15-SLC2A8" class="nb bl" transform="translate(855.2,1032.3)"><use href="#bxB"/><text class="p11">SLC2A8</text><use href="#dnB" x="35.6"/></g>
<g id="B-Lm15-HIRA" class="nb bl" transform="translate(855.2,1058)"><use href="#bxB"/><text class="p125">HIRA</text><use href="#dnB" x="35.6"/></g>
</g>

<!-- Panel C -->
<g id="C-Hs">
<g id="C-Hs-FAM222B" class="n gr" transform="translate(73.3,1260)"><use href="#bxA"/><text class="f115">FAM222B</text><use href="#dnA" x="47.7"/></g>
<g id="C-Hs-ERAL1" class="n gr tk" transform="translate(73.3,1296.4)"><use href="#bxA"/><text class="f17">ERAL1</text><use href="#upA" x="47.7"/></g>
<g id="C-Hs-FLOT2" class="n gr" transform="translate(73.3,1332.7)"><use href="#bxA"/><text class="f17">FLOT2</text><use href="#dnA" x="47.7"/></g>
<g id="C-Hs-UBB" class="n or" transform="translate(73.3,1369.1)"><use href="#bxA"/><text class="f17">UBB</text><use href="#upA" x="47.7"/></g>
<g id="C-Hs-CENPV" class="n or" transform="translate(73.3,1405.4)"><use href="#bxA"/><text class="f15">CENPV</text><use href="#dnA" x="47.7"/></g>
<g id="C-Hs-PIGL" class="n or tk" transform="translate(73.3,1441.8)"><use href="#bxA"/><text class="f17">PIGL</text><use href="#upA" x="47.7"/></g>
<g id="C-Hs-ZSWIM7" class="n or" transform="translate(73.3,1478.1)"><use href="#bxA"/><text class="f13">ZSWIM7</text><use href="#dnA" x="47.7"/></g>
<g id="C-Hs-ADORA2B" class="n or" transform="translate(73.3,1514.5)"><use href="#bxA"/><text class="f115">ADORA2B</text><use href="#dnA" x="47.7"/></g>
<g id="C-Hs-P2X5" class="n rd" transform="translate(73.3,1550.8)"><use href="#bxA"/><text class="f17">P2X5</text><use href="#dnA" x="47.7"/></g>
<g id="C-Hs-EMC6" class="n gr" transform="translate(73.3,1587.2)"><use href="#bxA"/><text class="f17">EMC6</text><use href="#upA" x="47.7"/></g>
<g id="C-Hs-SHPK" class="n gr" transform="translate(73.3,1623.5)"><use href="#bxA"/><text class="f17">SHPK</text><use href="#dnA" x="47.7"/></g>
<g id="C-Hs-TRPV1" class="n gr" transform="translate(73.3,1659.9)"><use href="#bxA"/><text class="f17">TRPV1</text><use href="#dnA" x="47.7"/></g>
</g>
<g id="C-Mm">
<g id="C-Mm-ADORA2B" class="n or" transform="translate(182.4,1369.1)"><use href="#bxA"/><text class="f115">ADORA2B</text><use href="#dnA" x="47.7"/></g>
<g id="C-Mm-ZSWIM7" class="n or" transform="translate(182.4,1405.4)"><use href="#bxA"/><text class="f13">ZSWIM7</text><use href="#upA" x="47.7"/></g>
<g id="C-Mm-PIGL" class="n or" transform="translate(182.4,1441.8)"><use href="#bxA"/><text class="f17">PIGL</text><use href="#dnA" x="47.7"/></g>
<g id="C-Mm-CENPV" class="n or" transform="translate(182.4,1478.1)"><use href="#bxA"/><text class="f15">CENPV</text><use href="#upA" x="47.7"/></g>
<g id="C-Mm-UBB" class="n or tk" transform="translate(182.4,1514.5)"><use href="#bxA"/><text class="f17">UBB</text><use href="#dnA" x="47.7"/></g>
<g id="C-Mm-P2X5" class="n rd" transform="translate(182.4,1550.8)"><use href="#bxA"/><text class="f17">P2X5</text><use href="#dnA" x="47.7"/></g>
<g id="C-Mm-EMC6" class="n gr" transform="translate(182.4,1587.2)"><use href="#bxA"/><text class="f17">EMC6</text><use href="#upA" x="47.7"/></g>
<g id="C-Mm-SHPK" class="n gr" transform="translate(182.4,1623.5)"><use href="#bxA"/><text class="f17">SHPK</text><use href="#dnA" x="47.7"/></g>
<g id="C-Mm-TRPV1" class="n gr" transform="translate(182.4,1659.9)"><use href="#bxA"/><text class="f17">TRPV1</text><use href="#dnA" x="47.7"/></g>
<g id="C-Mm-FLOT2" class="n gr" transform="translate(182.4,1696.2)"><use href="#bxA"/><text class="f17">FLOT2</text><use href="#dnA" x="47.7"/></g>
<g id="C-Mm-ERAL1" class="n gr tk" transform="translate(182.4,1732.6)"><use href="#bxA"/><text class="f17">ERAL1</text><use href="#upA" x="47.7"/></g>
<g id="C-Mm-FAM222BA" class="n gr" transform="translate(182.4,1768.9)"><use href="#bxA"/><text class="f106">FAM222BA</text><use href="#dnA" x="47.7"/></g>
</g>
<g id="C-Gg">
<g id="C-Gg-FAM222B" class="n gr" transform="translate(291.5,1260)"><use href="#bxA"/><text class="f115">FAM222B</text><use href="#upA" x="47.7"/></g>
<g id="C-Gg-ERAL1" class="n gr tk" transform="translate(291.5,1296.4)"><use href="#bxA"/><text class="f17">ERAL1</text><use href="#upA" x="47.7"/></g>
<g id="C-Gg-FLOT2" class="n gr" transform="translate(291.5,1332.7)"><use href="#bxA"/><text class="f17">FLOT2</text><use href="#upA" x="47.7"/></g>
<g id="C-Gg-ZSWIM7" class="n or" transform="translate(291.5,1478.1)"><use href="#bxA"/><text class="f13">ZSWIM7</text><use href="#dnA" x="47.7"/></g>
<g id="C-Gg-ADORA2B" class="n or" transform="translate(291.5,1514.5)"><use href="#bxA"/><text class="f115">ADORA2B</text><use href="#dnA" x="47.7"/></g>
<g id="C-Gg-P2X5" class="n rd" transform="translate(291.5,1550.8)"><use href="#bxA"/><text class="f17">P2X5</text><use href="#dnA" x="47.7"/></g>
<g id="C-Gg-EMC6" class="n gr" transform="translate(291.5,1587.2)"><use href="#bxA"/><text class="f17">EMC6</text><use href="#upA" x="47.7"/></g>
<g id="C-Gg-TRPV1" class="n gr" transform="translate(291.5,1659.9)"><use href="#bxA"/><text class="f17">TRPV1</text><use href="#dnA" x="47.7"/></g>
</g>
<g id="C-Dr">
<g id="C-Dr-PIGL" class="n or" transform="translate(400.6,1441.8)"><use href="#bxA"/><text class="f17">PIGL</text><use href="#dnA" x="47.7"/></g>
<g id="C-Dr-CENPV" class="n or" transform="translate(400.6,1478.1)"><use href="#bxA"/><text class="f15">CENPV</text><use href="#upA" x="47.7"/></g>
<g id="C-Dr-UBB" class="n or tk" transform="translate(400.6,1514.5)"><use href="#bxA"/><text class="f17">UBB</text><use href="#dnA" x="47.7"/></g>
<g id="C-Dr-P2X5" class="n rd" transform="translate(400.6,1550.8)"><use href="#bxA"/><text class="f17">P2X5</text><use href="#dnA" x="47.7"/></g>
<g id="C-Dr-EMC6" class="n gr" transform="translate(400.6,1587.2)"><use href="#bxA"/><text class="f17">EMC6</text><use href="#upA" x="47.7"/></g>
<g id="C-Dr-SHPK" class="n gr" transform="translate(400.6,1623.5)"><use href="#bxA"/><text class="f17">SHPK</text><use href="#dnA" x="47.7"/></g>
<g id="C-Dr-TRPV1" class="n gr" transform="translate(400.6,1659.9)"><use href="#bxA"/><text class="f17">TRPV1</text><use href="#dnA" x="47.7"/></g>
<g id="C-Dr-FAM222BA" class="n gr" transform="translate(400.6,1696.2)"><use href="#bxA"/><text class="f106">FAM222BA</text><use href="#upA" x="47.7"/></g>
<g id="C-Dr-ERAL1" class="n gr tk" transform="translate(400.6,1732.6)"><use href="#bxA"/><text class="f17">ERAL1</text><use href="#dnA" x="47.7"/></g>
<g id="C-Dr-FLOT2A" class="n gr" transform="translate(400.6,1768.9)"><use href="#bxA"/><text class="f13">FLOT2A</text><use href="#upA" x="47.7"/></g>
<g id="C-Dr-ZSWIM7" class="n or" transform="translate(400.6,1805.3)"><use href="#bxA"/><text class="f13">ZSWIM7</text><use href="#dnA" x="47.7"/></g>
<g id="C-Dr-ADORA2B" class="n or" transform="translate(400.6,1841.6)"><use href="#bxA"/><text class="f115">ADORA2B</text><use href="#upA" x="47.7"/></g>
</g>
<g id="C-Tr">
<g id="C-Tr-ADORA2B" class="n or" transform="translate(509.7,1369.1)"><use href="#bxA"/><text class="f115">ADORA2B</text><use href="#dnA" x="47.7"/></g>
<g id="C-Tr-ZSWIM7" class="n or" transform="translate(509.7,1405.4)"><use href="#bxA"/><text class="f13">ZSWIM7</text><use href="#upA" x="47.7"/></g>
<g id="C-Tr-PIGL" class="n or" transform="translate(509.7,1441.8)"><use href="#bxA"/><text class="f17">PIGL</text><use href="#dnA" x="47.7"/></g>
<g id="C-Tr-CENPV" class="n or" transform="translate(509.7,1478.1)"><use href="#bxA"/><text class="f15">CENPV</text><use href="#upA" x="47.7"/></g>
<g id="C-Tr-UBB" class="n or tk" transform="translate(509.7,1514.5)"><use href="#bxA"/><text class="f17">UBB</text><use href="#dnA" x="47.7"/></g>
<g id="C-Tr-P2X5" class="n rd" transform="translate(509.7,1550.8)"><use href="#bxA"/><text class="f17">P2X5</text><use href="#dnA" x="47.7"/></g>
<g id="C-Tr-EMC6" class="n gr" transform="translate(509.7,1587.2)"><use href="#bxA"/><text class="f17">EMC6</text><use href="#upA" x="47.7"/></g>
<g id="C-Tr-SHPK" class="n gr" transform="translate(509.7,1623.5)"><use href="#bxA"/><text class="f17">SHPK</text><use href="#dnA" x="47.7"/></g>
<g id="C-Tr-TRPV1" class="n gr" transform="translate(509.7,1659.9)"><use href="#bxA"/><text class="f17">TRPV1</text><use href="#dnA" x="47.7"/></g>
<g id="C-Tr-FAM222BA" class="n gr" transform="translate(509.7,1696.2)"><use href="#bxA"/><text class="f106">FAM222BA</text><use href="#upA" x="47.7"/></g>
<g id="C-Tr-ERAL1" class="n gr tk" transform="translate(509.7,1732.6)"><use href="#bxA"/><text class="f17">ERAL1</text><use href="#dnA" x="47.7"/></g>
<g id="C-Tr-FLOT2A" class="n gr" transform="translate(509.7,1768.9)"><use href="#bxA"/><text class="f13">FLOT2A</text><use href="#upA" x="47.7"/></g>
</g>
<g id="C-Lc">
<g id="C-Lc-ADORA2B" class="n or" transform="translate(618.8,1369.1)"><use href="#bxA"/><text class="f115">ADORA2B</text><use href="#dnA" x="47.7"/></g>
<g id="C-Lc-ZSWIM7" class="n or" transform="translate(618.8,1405.4)"><use href="#bxA"/><text class="f13">ZSWIM7</text><use href="#upA" x="47.7"/></g>
<g id="C-Lc-PIGL" class="n or" transform="translate(618.8,1441.8)"><use href="#bxA"/><text class="f17">PIGL</text><use href="#dnA" x="47.7"/></g>
<g id="C-Lc-CENPV" class="n or" transform="translate(618.8,1478.1)"><use href="#bxA"/><text class="f15">CENPV</text><use href="#upA" x="47.7"/></g>
<g id="C-Lc-UBB" class="n or tk" transform="translate(618.8,1514.5)"><use href="#bxA"/><text class="f17">UBB</text><use href="#dnA" x="47.7"/></g>
<g id="C-Lc-P2X5" class="n rd" transform="translate(618.8,1550.8)"><use href="#bxA"/><text class="f17">P2X5</text><use href="#dnA" x="47.7"/></g>
<g id="C-Lc-EMC6" class="n gr" transform="translate(618.8,1587.2)"><use href="#bxA"/><text class="f17">EMC6</text><use href="#upA" x="47.7"/></g>
<g id="C-Lc-SHPK" class="n gr" transform="translate(618.8,1623.5)"><use href="#bxA"/><text class="f17">SHPK</text><use href="#dnA" x="47.7"/></g>
<g id="C-Lc-TRPV1" class="n gr" transform="translate(618.8,1659.9)"><use href="#bxA"/><text class="f17">TRPV1</text><use href="#dnA" x="47.7"/></g>
<g id="C-Lc-FAM222BA" class="n gr" transform="translate(618.8,1696.2)"><use href="#bxA"/><text class="f106">FAM222BA</text><use href="#upA" x="47.7"/></g>
<g id="C-Lc-ERAL1" class="n gr tk" transform="translate(618.8,1732.6)"><use href="#bxA"/><text class="f17">ERAL1</text><use href="#dnA" x="47.7"/></g>
<g id="C-Lc-FLOT2A" class="n gr" transform="translate(618.8,1768.9)"><use href="#bxA"/><text class="f13">FLOT2A</text><use href="#upA" x="47.7"/></g>
</g>
<g id="C-Lm">
<g id="C-Lm-P2X5" class="n rd" transform="translate(727.9,1550.8)"><use href="#bxA"/><text class="f17">P2X5</text><use href="#dnA" x="47.7"/></g>
<g id="C-Lm-TRPV1" class="n gr" transform="translate(727.9,1659.9)"><use href="#bxA"/><text class="f17">TRPV1</text><use href="#dnA" x="47.7"/></g>
<g id="C-Lm-FAM222BA" class="n gr" transform="translate(727.9,1696.2)"><use href="#bxA"/><text class="f106">FAM222BA</text><use href="#upA" x="47.7"/></g>
<g id="C-Lm-FLOT2A" class="n gr" transform="translate(727.9,1768.9)"><use href="#bxA"/><text class="f13">FLOT2A</text><use href="#upA" x="47.7"/></g>
</g>
<g id="C-Lo">
<g id="C-Lo-ADORA2B" class="n or" transform="translate(837,1369.1)"><use href="#bxA"/><text class="f115">ADORA2B</text><use href="#dnA" x="47.7"/></g>
<g id="C-Lo-ZSWIM7" class="n or" transform="translate(837,1405.4)"><use href="#bxA"/><text class="f13">ZSWIM7</text><use href="#upA" x="47.7"/></g>
<g id="C-Lo-PIGL" class="n or" transform="translate(837,1441.8)"><use href="#bxA"/><text class="f17">PIGL</text><use href="#dnA" x="47.7"/></g>
<g id="C-Lo-CENPV" class="n or" transform="translate(837,1478.1)"><use href="#bxA"/><text class="f15">CENPV</text><use href="#upA" x="47.7"/></g>
<g id="C-Lo-P2X5" class="n rd" transform="translate(837,1550.8)"><use href="#bxA"/><text class="f17">P2X5</text><use href="#dnA" x="47.7"/></g>
<g id="C-Lo-EMC6" class="n gr" transform="translate(837,1587.2)"><use href="#bxA"/><text class="f17">EMC6</text><use href="#upA" x="47.7"/></g>
<g id="C-Lo-SHPK" class="n gr" transform="translate(837,1623.5)"><use href="#bxA"/><text class="f17">SHPK</text><use href="#dnA" x="47.7"/></g>
<g id="C-Lo-TRPV1" class="n gr" transform="translate(837,1659.9)"><use href="#bxA"/><text class="f17">TRPV1</text><use href="#dnA" x="47.7"/></g>
<g id="C-Lo-FAM222BA" class="n gr" transform="translate(837,1696.2)"><use href="#bxA"/><text class="f106">FAM222BA</text><use href="#upA" x="47.7"/></g>
<g id="C-Lo-ERAL1" class="n gr tk" transform="translate(837,1732.6)"><use href="#bxA"/><text class="f17">ERAL1</text><use href="#dnA" x="47.7"/></g>
<g id="C-Lo-FLOT2A" class="n gr" transform="translate(837,1768.9)"><use href="#bxA"/><text class="f13">FLOT2A</text><use href="#upA" x="47.7"/></g>
</g>
</svg>
